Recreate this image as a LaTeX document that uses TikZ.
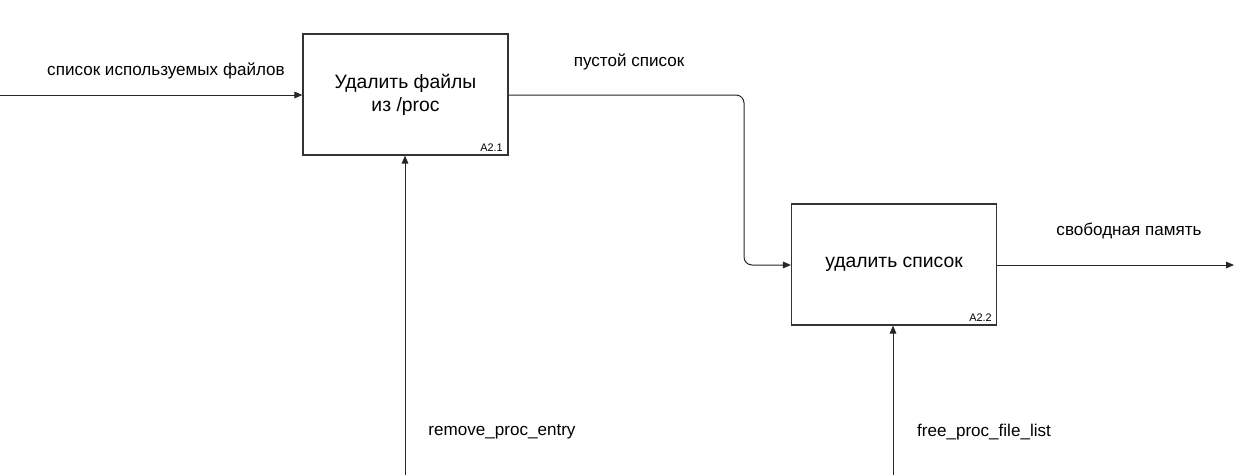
\documentclass[tikz,border=0pt]{standalone}
\usepackage{fontspec}
\setmainfont{Liberation Sans}
\usetikzlibrary{arrows.meta}
\begin{document}
\begin{tikzpicture}[x=0.75pt,y=-0.75pt,
  fn/.style={draw=black!80,line width=0.9pt,minimum width=205*0.75pt,minimum height=121*0.75pt,inner sep=0pt,align=center,font=\fontsize{14.5}{17}\selectfont},
  lbl/.style={font=\fontsize{12.8}{15}\selectfont,inner sep=0pt},
  tag/.style={font=\fontsize{8.2}{10}\selectfont,inner sep=0pt,anchor=south east},
  conn/.style={draw=black!85,line width=0.75pt,-{Triangle[length=6pt,width=5pt]},rounded corners=6pt}]
\useasboundingbox (0,0) rectangle (1234,475);
\node[fn] (b1) at (405.5,94.5) {Удалить файлы\\из /proc};
\node[fn] (b2) at (894,264.5) {удалить список};
\node[tag] (t1) at (503,152) {A2.1};
\node[tag] (t2) at (992,322) {A2.2};
\coordinate (in1) at (0,95);
\coordinate (out2) at (1234,265);
\coordinate (c1) at (405,475);
\coordinate (c2) at (893,475);
\coordinate (bend) at (744,95);
\draw[conn] (in1) -- (b1.west |- in1);
\draw[conn] (b1.east |- in1) -- (bend) |- (b2.west |- out2);
\draw[conn] (b2.east |- out2) -- (out2);
\draw[conn] (c1) -- (c1 |- b1.south);
\draw[conn] (c2) -- (c2 |- b2.south);
\node[lbl] (l1) at (166,71) {список используемых файлов};
\node[lbl] (l2) at (629,62) {пустой список};
\node[lbl] (l3) at (1129,231) {свободная память};
\node[lbl] (l4) at (502,432) {remove\_proc\_entry};
\node[lbl] (l5) at (984,432) {free\_proc\_file\_list};
\end{tikzpicture}
\end{document}
